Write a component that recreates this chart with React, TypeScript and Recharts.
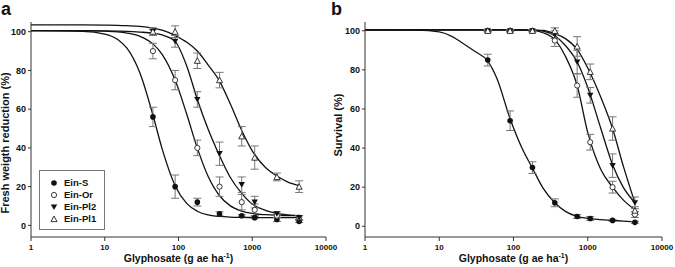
import React from 'react'
import { ComposedChart, Line, Scatter, XAxis, YAxis, ErrorBar, Legend } from 'recharts'

const FONT = '"Liberation Sans", Arial, sans-serif'

const SERIES = ['Ein-S', 'Ein-Or', 'Ein-Pl2', 'Ein-Pl1']
const DOSES = [45, 90, 180, 360, 720, 1080, 2160, 4320]
const X_TICKS = [1, 10, 100, 1000, 10000]
const Y_TICKS = [0, 20, 40, 60, 80, 100]

// panel a: fresh weight reduction, mean and error
const A_S_MEAN = [56, 20, 12, 6, 5, 4, 3, 2]
const A_S_ERR = [5, 6, 2, 1, 0.5, 0.5, 1, 0.5]
const A_OR_MEAN = [90, 75, 40, 20, 12, 8, 5, 4]
const A_OR_ERR = [4, 5, 4, 5, 4, 3, 1, 1]
const A_PL2_MEAN = [100, 95, 65, 37, 21, 12, 6, 4]
const A_PL2_ERR = [1, 3, 4, 6, 4, 3, 1, 1]
const A_PL1_MEAN = [100, 100, 85, 75, 46, 35, 25, 20]
const A_PL1_ERR = [2, 3, 4, 4, 5, 6, 2, 3]

// panel b: survival
const B_S_MEAN = [85, 54, 30, 12, 5, 4, 3, 2]
const B_S_ERR = [3, 5, 3, 2, 1, 1, 0.5, 0.5]
const B_OR_MEAN = [100, 100, 100, 95, 72, 43, 20, 6]
const B_OR_ERR = [0.5, 0.5, 0.5, 3, 6, 4, 3, 1.5]
const B_PL2_MEAN = [100, 100, 100, 98, 84, 67, 31, 12]
const B_PL2_ERR = [0.5, 0.5, 0.5, 2, 6, 4, 6, 3]
const B_PL1_MEAN = [100, 100, 100, 100, 92, 79, 50, 8]
const B_PL1_ERR = [0.5, 0.5, 0.5, 1.5, 5, 4, 6, 2]

// fitted dose-response curves at these doses
const CURVE_X = [1, 5, 10, 15, 20, 30, 45, 60, 90, 130, 180, 250, 360, 500, 720, 1000, 1500, 2160, 3000, 4320]
const A_S_FIT = [100.5, 100.2, 98.8, 96, 91.5, 78.7, 57, 39.5, 20.5, 11.2, 7.3, 5.4, 4.6, 4.25, 4.1, 4.05, 4, 4, 4, 4]
const A_OR_FIT = [100.5, 100.5, 100.25, 99.9, 99.3, 97.6, 93.7, 88.3, 75, 57.1, 39.9, 25.6, 15.3, 10.2, 7.4, 6.15, 5.5, 5.2, 5.1, 5.05]
const A_PL2_FIT = [100.5, 100.5, 100.4, 100.3, 100.2, 99.8, 99.2, 98.3, 95, 82, 65, 50, 36, 25, 16.5, 11, 7.8, 6.2, 5.4, 5]
const A_PL1_FIT = [103.5, 103.5, 103.4, 103.3, 103.1, 102.7, 101.8, 100.8, 98, 94.5, 90, 83, 74.5, 63, 49, 38.5, 30, 25.5, 22.5, 20.5]
const B_S_FIT = [100.5, 100.3, 99.4, 97, 94, 89.5, 84.5, 75.5, 55, 40, 29.7, 19.5, 12, 7.6, 5, 4, 3.4, 3, 2.6, 2.2]
const B_OR_FIT = [100.5, 100.5, 100.5, 100.5, 100.5, 100.5, 100.5, 100.5, 100.5, 100.4, 100.2, 99, 95.5, 87, 72, 48, 29, 20, 13.5, 8.5]
const B_PL2_FIT = [100.5, 100.5, 100.5, 100.5, 100.5, 100.5, 100.5, 100.5, 100.5, 100.4, 100.3, 99.8, 97.5, 92.5, 84, 71, 50, 31.5, 20, 12]
const B_PL1_FIT = [100.5, 100.5, 100.5, 100.5, 100.5, 100.5, 100.5, 100.5, 100.5, 100.5, 100.4, 100.2, 98.5, 96, 90.5, 81, 66, 50, 31, 12]

const toPoints = (mean: number[], err: number[]) => DOSES.map((x, i) => ({ x, y: mean[i], err: err[i] }))
const toCurve = (fit: number[]) => CURVE_X.map((x, i) => ({ x, y: fit[i] }))

function Marker({ kind, cx, cy }: { kind: number; cx: number; cy: number }) {
  if (kind === 0) return <circle cx={cx} cy={cy} r={2.8} fill="#111" />
  if (kind === 1) return <circle cx={cx} cy={cy} r={2.6} fill="#fff" stroke="#222" strokeWidth={0.9} />
  if (kind === 2)
    return <polygon points={`${cx - 3.2},${cy - 2.6} ${cx + 3.2},${cy - 2.6} ${cx},${cy + 3}`} fill="#111" />
  return (
    <polygon
      points={`${cx - 3},${cy + 2.6} ${cx + 3},${cy + 2.6} ${cx},${cy - 3}`}
      fill="#fff"
      stroke="#222"
      strokeWidth={0.9}
    />
  )
}

// custom tick so the last decade label (10000) is kept
function XTick(props: any) {
  const { x, y, payload } = props
  return (
    <text x={x} y={y + 7} textAnchor="middle" fontFamily={FONT} fontSize={8} fontWeight="bold" fill="#111">
      {payload.value}
    </text>
  )
}

function LegendBox() {
  return (
    <div
      style={{
        width: 66, height: 60, boxSizing: 'border-box', border: '1px solid #777',
        background: '#fff', paddingTop: 6, fontFamily: FONT, fontSize: 9.5, fontWeight: 'bold', color: '#111',
      }}
    >
      {SERIES.map((name, i) => (
        <div key={name} style={{ display: 'flex', alignItems: 'center', height: 12 }}>
          <svg width={24} height={12} style={{ flex: 'none' }}>
            <Marker kind={i} cx={14} cy={6} />
          </svg>
          <span style={{ lineHeight: '12px' }}>{name}</span>
        </div>
      ))}
    </div>
  )
}

interface PanelProps {
  left: number
  width: number
  letter: string
  letterX: number
  yTitle: string
  yTitleX: number
  yTitleY: number
  yAxisWidth: number
  right: number
  yDomain: [number, number]
  points: { x: number; y: number; err: number }[][]
  curves: { x: number; y: number }[][]
  legend?: boolean
}

function Panel(p: PanelProps) {
  const xTitleX = p.yAxisWidth + (p.width - p.yAxisWidth - p.right) / 2
  return (
    <div style={{ position: 'absolute', left: p.left, top: 0 }}>
      <ComposedChart width={p.width} height={267} margin={{ top: 22, right: p.right, bottom: 0, left: 0 }}>
        <XAxis
          type="number"
          dataKey="x"
          scale="log"
          domain={[0.9999, 10001]}
          ticks={X_TICKS}
          interval={0}
          allowDataOverflow
          height={30}
          stroke="#333"
          tickSize={4}
          tickMargin={2}
          tick={<XTick />}
          label={() => (
            <text x={xTitleX} y={261.5} textAnchor="middle" fontFamily={FONT} fontSize={10.5} fontWeight="bold" fill="#111">
              Glyphosate (g ae ha
              <tspan dy={-4} fontSize={7}>-1</tspan>
              <tspan dy={4}>)</tspan>
            </text>
          )}
        />
        <YAxis
          type="number"
          dataKey="y"
          domain={p.yDomain}
          ticks={Y_TICKS}
          interval={0}
          allowDataOverflow
          width={p.yAxisWidth}
          stroke="#333"
          tickSize={3}
          tickMargin={2}
          tick={{ fontFamily: FONT, fontSize: 9, fontWeight: 'bold', fill: '#111' }}
          label={() => (
            <g>
              <text
                x={p.yTitleX}
                y={p.yTitleY}
                transform={`rotate(-90 ${p.yTitleX} ${p.yTitleY})`}
                textAnchor="middle"
                fontFamily={FONT}
                fontSize={11}
                fontWeight="bold"
                fill="#111"
              >
                {p.yTitle}
              </text>
              <text x={p.letterX} y={15} fontFamily={FONT} fontSize={18} fontWeight="bold" fill="#111">
                {p.letter}
              </text>
            </g>
          )}
        />
        {p.curves.map((c, i) => (
          <Line
            key={'c' + i}
            data={c}
            dataKey="y"
            type="monotone"
            stroke="#111"
            strokeWidth={1.3}
            dot={false}
            activeDot={false}
            isAnimationActive={false}
          />
        ))}
        {p.points.map((pts, i) => (
          <Scatter
            key={'s' + i}
            name={SERIES[i]}
            data={pts}
            isAnimationActive={false}
            shape={(sp: any) => <Marker kind={i} cx={sp.cx} cy={sp.cy} />}
          >
            <ErrorBar dataKey="err" direction="y" width={4} stroke="#777" strokeWidth={1} isAnimationActive={false} />
          </Scatter>
        ))}
        {p.legend && (
          <Legend
            layout="horizontal"
            align="center"
            verticalAlign="middle"
            content={() => <LegendBox />}
            wrapperStyle={{ left: 39, top: 170, width: 66, height: 60 }}
          />
        )}
      </ComposedChart>
    </div>
  )
}

export default function App() {
  return (
    <div style={{ position: 'absolute', left: 0, top: 0, width: 675, height: 267, background: '#fff' }}>
      <style>{'.recharts-surface { overflow: visible; }'}</style>
      <Panel
        left={0}
        width={337}
        letter="a"
        letterX={1}
        yTitle="Fresh weigth reduction (%)"
        yTitleX={9}
        yTitleY={143}
        yAxisWidth={31}
        right={11}
        yDomain={[-6, 105]}
        points={[
          toPoints(A_S_MEAN, A_S_ERR),
          toPoints(A_OR_MEAN, A_OR_ERR),
          toPoints(A_PL2_MEAN, A_PL2_ERR),
          toPoints(A_PL1_MEAN, A_PL1_ERR),
        ]}
        curves={[toCurve(A_S_FIT), toCurve(A_OR_FIT), toCurve(A_PL2_FIT), toCurve(A_PL1_FIT)]}
        legend
      />
      <Panel
        left={337}
        width={338}
        letter="b"
        letterX={-6}
        yTitle="Survival (%)"
        yTitleX={5}
        yTitleY={125}
        yAxisWidth={28}
        right={13}
        yDomain={[-5.5, 104.5]}
        points={[
          toPoints(B_S_MEAN, B_S_ERR),
          toPoints(B_OR_MEAN, B_OR_ERR),
          toPoints(B_PL2_MEAN, B_PL2_ERR),
          toPoints(B_PL1_MEAN, B_PL1_ERR),
        ]}
        curves={[toCurve(B_S_FIT), toCurve(B_OR_FIT), toCurve(B_PL2_FIT), toCurve(B_PL1_FIT)]}
      />
    </div>
  )
}
